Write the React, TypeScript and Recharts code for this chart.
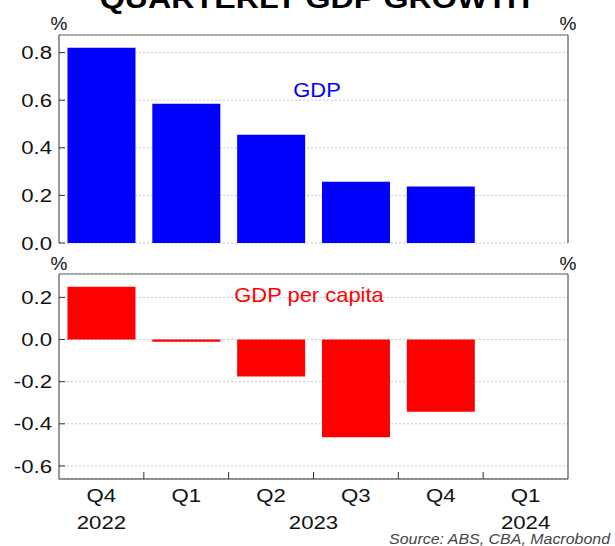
import { BarChart, Bar, XAxis, YAxis, CartesianGrid, ReferenceLine } from "recharts";

// quarterly growth, %
const quarters = ["Q4", "Q1", "Q2", "Q3", "Q4", "Q1"];
const years = ["2022", "2023", "2023", "2023", "2023", "2024"];
const gdp = [0.82, 0.585, 0.455, 0.257, 0.237, null];
const gdpPerCapita = [0.25, -0.01, -0.175, -0.464, -0.343, null];
const topTicks = [0, 0.2, 0.4, 0.6, 0.8];
const bottomTicks = [-0.6, -0.4, -0.2, 0, 0.2];

const rows = quarters.map((q, i) => ({
  id: `${q} ${years[i]}`,
  q,
  year: years[i],
  gdp: gdp[i],
  pc: gdpPerCapita[i],
}));

const W = 615;
const LEFT_W = 59;
const RIGHT_W = 47;
const PLOT_W = W - LEFT_W - RIGHT_W;
const BAND = PLOT_W / quarters.length;
const FONT = "Arial, 'Liberation Sans', sans-serif";
const AXIS = "#333";
const TICK_GAP = 7;
const TICK_FONT = 18.5;
const STRETCH = 1.2; // source picture's lettering is a bit wide

const TOP_DOMAIN: [number, number] = [0, 0.874];
const BOTTOM_DOMAIN: [number, number] = [-0.662, 0.311];

function WText({ x, y, sx = STRETCH, children, ...rest }: any) {
  return (
    <text transform={`translate(${x},${y}) scale(${sx},1)`} dy="0.36em" fontFamily={FONT} {...rest}>
      {children}
    </text>
  );
}

function YTick(props: any) {
  const { x, y, payload, side } = props;
  const left = side === "left";
  const ax = left ? x + TICK_GAP : x - TICK_GAP;
  return (
    <g>
      <line x1={ax} x2={left ? ax + 6 : ax - 6} y1={y} y2={y} stroke={AXIS} />
      <WText x={x} y={y} textAnchor={left ? "end" : "start"} fontSize={TICK_FONT} fill="#111">
        {payload.value.toFixed(1)}
      </WText>
    </g>
  );
}

function XTick(props: any) {
  const { x, y, index } = props;
  const row = rows[index];
  if (!row) return null;
  // year label centred under its run of quarters
  const first = index === 0 || years[index - 1] !== row.year;
  let n = 0;
  while (years[index + n] === row.year) n++;
  return (
    <g>
      {index > 0 && (
        <line x1={x - BAND / 2} x2={x - BAND / 2} y1={y} y2={y - 7} stroke={AXIS} />
      )}
      <WText x={x} y={y + 16.5} textAnchor="middle" fontSize={TICK_FONT} fill="#111">
        {row.q}
      </WText>
      {first && (
        <WText x={x + ((n - 1) * BAND) / 2} y={y + 43} textAnchor="middle" fontSize={TICK_FONT} fill="#111">
          {row.year}
        </WText>
      )}
    </g>
  );
}

export default function App() {
  return (
    <div style={{ position: "absolute", left: 0, top: 0, width: W, height: 546, background: "#fff" }}>
      <div style={{ position: "absolute", left: 0, top: 0 }}>
        <BarChart
          width={W}
          height={262}
          data={rows}
          margin={{ top: 35, right: 0, bottom: 19, left: 0 }}
          barCategoryGap="10%"
        >
          <CartesianGrid yAxisId="l" vertical={false} stroke="#c8c8c8" strokeDasharray="2 2" />
          <XAxis dataKey="id" height={0} tick={false} tickLine={false} axisLine={{ stroke: AXIS }} />
          <YAxis
            yAxisId="l"
            width={LEFT_W}
            domain={TOP_DOMAIN}
            ticks={topTicks}
            interval={0}
            tickSize={0}
            tickMargin={TICK_GAP}
            axisLine={{ stroke: AXIS }}
            tick={<YTick side="left" />}
          />
          <YAxis
            yAxisId="r"
            orientation="right"
            width={RIGHT_W}
            domain={TOP_DOMAIN}
            ticks={topTicks}
            interval={0}
            tickSize={0}
            tickMargin={TICK_GAP}
            axisLine={{ stroke: AXIS }}
            tick={<YTick side="right" />}
          />
          <ReferenceLine yAxisId="l" y={TOP_DOMAIN[1]} stroke="#666" />
          <Bar yAxisId="l" dataKey="gdp" fill="#0000ff" isAnimationActive={false} />
        </BarChart>
      </div>
      <div style={{ position: "absolute", left: 0, top: 250 }}>
        <BarChart
          width={W}
          height={296}
          data={rows}
          margin={{ top: 24, right: 0, bottom: 0, left: 0 }}
          barCategoryGap="10%"
        >
          <CartesianGrid yAxisId="l" vertical={false} stroke="#c8c8c8" strokeDasharray="2 2" />
          <XAxis
            dataKey="id"
            height={67}
            tickSize={0}
            tickMargin={0}
            interval={0}
            axisLine={{ stroke: AXIS }}
            tick={<XTick />}
          />
          <YAxis
            yAxisId="l"
            width={LEFT_W}
            domain={BOTTOM_DOMAIN}
            ticks={bottomTicks}
            interval={0}
            tickSize={0}
            tickMargin={TICK_GAP}
            axisLine={{ stroke: AXIS }}
            tick={<YTick side="left" />}
          />
          <YAxis
            yAxisId="r"
            orientation="right"
            width={RIGHT_W}
            domain={BOTTOM_DOMAIN}
            ticks={bottomTicks}
            interval={0}
            tickSize={0}
            tickMargin={TICK_GAP}
            axisLine={{ stroke: AXIS }}
            tick={<YTick side="right" />}
          />
          <ReferenceLine yAxisId="l" y={BOTTOM_DOMAIN[1]} stroke="#666" />
          <Bar yAxisId="l" dataKey="pc" fill="#ff0000" isAnimationActive={false} />
        </BarChart>
      </div>
      <svg
        width={W}
        height={546}
        style={{ position: "absolute", left: 0, top: 0, pointerEvents: "none" }}
        fontFamily={FONT}
      >
        {/* title sits mostly above the frame, as in the source picture */}
        <WText x={315} y={-2} sx={1.15} textAnchor="middle" fontSize={28} fontWeight="bold" fill="#000">
          QUARTERLY GDP GROWTH
        </WText>
        <WText x={LEFT_W} y={23} sx={1} textAnchor="middle" fontSize={19} fill="#111">%</WText>
        <WText x={LEFT_W + PLOT_W} y={23} sx={1} textAnchor="middle" fontSize={19} fill="#111">%</WText>
        <WText x={LEFT_W} y={263} sx={1} textAnchor="middle" fontSize={19} fill="#111">%</WText>
        <WText x={LEFT_W + PLOT_W} y={263} sx={1} textAnchor="middle" fontSize={19} fill="#111">%</WText>
        <WText x={317} y={90} sx={1.07} textAnchor="middle" fontSize={20.5} fill="#0000ff">GDP</WText>
        <WText x={309} y={295} sx={1.07} textAnchor="middle" fontSize={20.5} fill="#ff0000">GDP per capita</WText>
        <WText x={610} y={539} sx={1.1} textAnchor="end" fontSize={14.5} fontStyle="italic" fill="#444">
          Source: ABS, CBA, Macrobond
        </WText>
      </svg>
    </div>
  );
}
